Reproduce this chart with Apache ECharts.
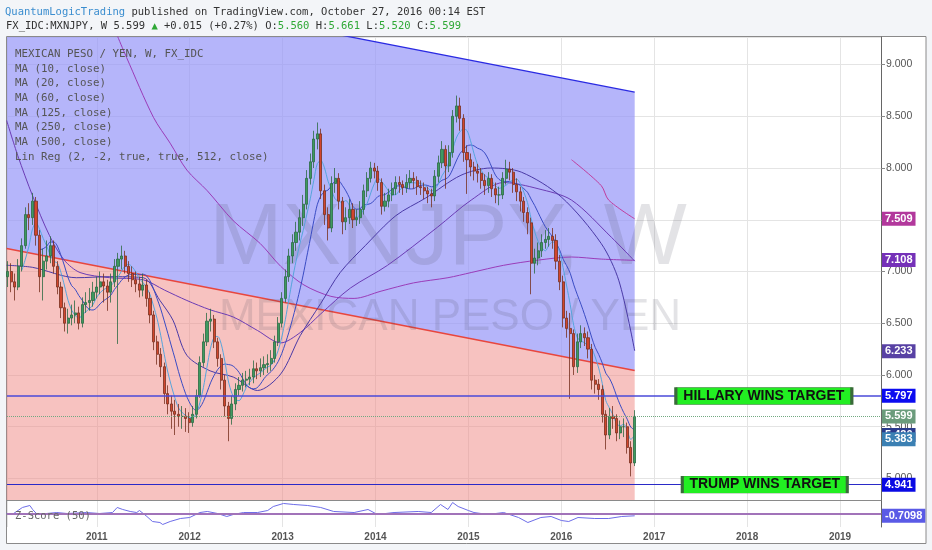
<!DOCTYPE html>
<html lang="en">
<head>
<meta charset="UTF-8" />
<title>MXNJPY weekly</title>
<script src="https://cdn.jsdelivr.net/npm/echarts@6/dist/echarts.min.js"></script>
<style>
  html, body { margin: 0; padding: 0; width: 100%; height: 100%; background: #f3f5f8; }
  #chart { width: 932px; height: 550px; }
</style>
</head>
<body>
<div id="chart"></div>
<script>
// one bar every two weeks, starting mid January 2010
const barStart = 2010.04;
const barStep = 14 / 365.25;

// [open, close, low, high]
const candles = [
  [6.95,7.00,6.85,7.10],[7.00,6.90,6.80,7.08],[6.90,6.85,6.72,6.98],[6.85,7.05,6.82,7.12],[7.05,7.25,7.00,7.32],[7.25,7.55,7.22,7.62],
  [7.55,7.52,7.40,7.66],[7.52,7.68,7.45,7.76],[7.68,7.35,7.25,7.72],[7.35,6.95,6.80,7.40],[6.95,7.10,6.72,7.22],[7.10,7.15,7.02,7.30],
  [7.15,7.25,7.08,7.34],[7.25,7.05,6.98,7.30],[7.05,6.85,6.78,7.10],[6.85,6.65,6.55,6.90],[6.65,6.50,6.42,6.70],[6.50,6.55,6.40,6.64],
  [6.55,6.58,6.48,6.68],[6.58,6.60,6.50,6.72],[6.60,6.50,6.44,6.66],[6.50,6.68,6.46,6.75],[6.68,6.70,6.60,6.80],[6.70,6.72,6.62,6.84],
  [6.72,6.80,6.66,6.90],[6.80,6.85,6.74,6.95],[6.85,6.90,6.78,7.00],[6.90,6.86,6.70,6.98],[6.86,6.80,6.62,6.92],[6.80,6.90,6.70,6.98],
  [6.90,7.05,6.85,7.12],[7.05,7.12,6.30,7.18],[7.12,7.15,7.02,7.25],[7.15,7.05,6.98,7.20],[7.05,6.98,6.90,7.10],[6.98,6.92,6.85,7.05],
  [6.92,6.88,6.80,7.00],[6.88,6.82,6.75,6.95],[6.82,6.87,6.76,6.98],[6.87,6.74,6.66,6.92],[6.74,6.58,6.50,6.80],[6.58,6.32,6.24,6.62],
  [6.32,6.20,6.10,6.38],[6.20,6.08,5.98,6.26],[6.08,5.82,5.72,6.12],[5.82,5.72,5.62,5.90],[5.72,5.65,5.48,5.80],[5.65,5.62,5.42,5.76],
  [5.62,5.60,5.50,5.72],[5.60,5.60,5.48,5.70],[5.60,5.58,5.45,5.68],[5.58,5.54,5.44,5.64],[5.54,5.62,5.50,5.70],[5.62,5.80,5.58,5.86],
  [5.80,6.12,5.78,6.18],[6.12,6.32,6.08,6.40],[6.32,6.52,6.28,6.60],[6.52,6.54,6.42,6.64],[6.54,6.32,6.26,6.58],[6.32,6.16,6.08,6.36],
  [6.16,5.95,5.86,6.20],[5.95,5.70,5.60,6.00],[5.70,5.58,5.36,5.74],[5.58,5.72,5.52,5.80],[5.72,5.86,5.66,5.92],[5.86,5.90,5.80,5.98],
  [5.90,5.95,5.84,6.02],[5.95,5.96,5.88,6.04],[5.96,5.98,5.90,6.06],[5.98,6.06,5.92,6.14],[6.06,6.04,5.96,6.12],[6.04,6.07,5.98,6.16],
  [6.07,6.10,6.00,6.18],[6.10,6.11,6.02,6.20],[6.11,6.16,6.04,6.24],[6.16,6.32,6.12,6.38],[6.32,6.50,6.28,6.56],[6.50,6.74,6.46,6.80],
  [6.74,6.95,6.70,7.02],[6.95,7.15,6.90,7.22],[7.15,7.28,7.08,7.36],[7.28,7.38,7.20,7.48],[7.38,7.52,7.30,7.60],[7.52,7.65,7.44,7.74],
  [7.65,7.90,7.60,7.98],[7.90,8.06,7.84,8.14],[8.06,8.28,8.00,8.36],[8.28,8.33,8.18,8.44],[8.33,7.78,7.70,8.38],[7.78,7.55,7.45,7.84],
  [7.55,7.42,7.30,7.62],[7.42,7.85,7.38,7.92],[7.85,7.90,7.76,8.00],[7.90,7.68,7.60,7.95],[7.68,7.48,7.36,7.72],[7.48,7.52,7.40,7.62],
  [7.52,7.60,7.46,7.70],[7.60,7.50,7.42,7.66],[7.50,7.52,7.44,7.60],[7.52,7.60,7.46,7.68],[7.60,7.78,7.55,7.84],[7.78,7.90,7.72,7.96],
  [7.90,8.00,7.86,8.06],[8.00,7.97,7.90,8.05],[7.97,7.86,7.78,8.02],[7.86,7.63,7.55,7.90],[7.63,7.68,7.58,7.76],[7.68,7.74,7.62,7.80],
  [7.74,7.80,7.68,7.86],[7.80,7.86,7.74,7.92],[7.86,7.84,7.76,7.92],[7.84,7.81,7.74,7.88],[7.81,7.86,7.76,7.94],[7.86,7.90,7.80,7.98],
  [7.90,7.88,7.80,7.96],[7.88,7.82,7.74,7.92],[7.82,7.81,7.74,7.88],[7.81,7.78,7.70,7.86],[7.78,7.75,7.66,7.82],[7.75,7.73,7.62,7.80],
  [7.73,7.92,7.68,7.98],[7.92,8.05,7.86,8.12],[8.05,8.18,8.00,8.26],[8.18,8.02,7.80,8.22],[8.02,8.15,7.96,8.22],[8.15,8.50,8.10,8.56],
  [8.50,8.60,8.44,8.70],[8.60,8.48,8.36,8.68],[8.48,8.15,8.06,8.52],[8.15,8.08,7.75,8.22],[8.08,8.01,7.92,8.14],[8.01,7.97,7.88,8.06],
  [7.97,7.95,7.86,8.04],[7.95,7.88,7.80,8.00],[7.88,7.83,7.74,7.94],[7.83,7.90,7.76,7.96],[7.90,7.80,7.72,7.94],[7.80,7.74,7.66,7.86],
  [7.74,7.74,7.64,7.82],[7.74,7.90,7.70,7.96],[7.90,7.99,7.84,8.08],[7.99,7.96,7.88,8.06],[7.96,7.84,7.76,8.00],[7.84,7.77,7.68,7.90],
  [7.77,7.68,7.58,7.82],[7.68,7.57,7.48,7.72],[7.57,7.47,7.36,7.62],[7.47,7.08,6.78,7.52],[7.08,7.13,6.98,7.22],[7.13,7.20,7.06,7.28],
  [7.20,7.28,7.14,7.36],[7.28,7.31,7.22,7.40],[7.31,7.34,7.24,7.42],[7.34,7.30,7.22,7.42],[7.30,7.10,7.02,7.36],[7.10,6.90,6.82,7.16],
  [6.90,6.55,6.46,6.96],[6.55,6.45,6.36,6.62],[6.45,6.40,5.77,6.60],[6.40,6.08,6.00,6.44],[6.08,6.32,6.02,6.40],[6.32,6.40,6.26,6.48],
  [6.40,6.36,6.28,6.46],[6.36,6.25,6.16,6.42],[6.25,5.95,5.86,6.30],[5.95,5.91,5.82,6.00],[5.91,5.86,5.76,5.96],[5.86,5.62,5.54,5.90],
  [5.62,5.42,5.28,5.66],[5.42,5.60,5.38,5.68],[5.60,5.58,5.48,5.70],[5.58,5.44,5.36,5.62],[5.44,5.50,5.38,5.56],[5.50,5.50,5.40,5.58],
  [5.50,5.30,5.24,5.54],[5.30,5.15,5.02,5.36],[5.15,5.60,5.12,5.66]
];

// longer moving averages
const ma60Years  = [2010.03,2010.31,2010.78,2011.14,2011.50,2011.68,2011.82,2011.97,2012.22,2012.47,2012.73,2012.98,2013.19,2013.41,2013.62,2013.89,2014.22,2014.54,2014.92,2015.24,2015.57,2016.00,2016.43,2016.62,2016.79];
const ma60Values = [7.06,7.04,6.94,6.95,6.94,6.72,6.53,6.19,6.04,5.98,5.85,6.01,6.38,6.69,6.99,7.25,7.54,7.71,7.93,8.00,7.96,7.72,7.27,6.91,6.233];

const ma125Years  = [2010.03,2010.15,2010.31,2010.49,2010.65,2010.82,2011.14,2011.50,2011.73,2011.97,2012.22,2012.47,2012.73,2012.98,2013.19,2013.41,2013.73,2014.13,2014.67,2015.03,2015.38,2015.75,2016.11,2016.54,2016.79];
const ma125Values = [8.46,8.12,7.73,7.35,7.11,6.99,6.94,6.92,6.82,6.72,6.63,6.56,6.43,6.31,6.41,6.59,6.84,7.06,7.43,7.69,7.86,7.80,7.69,7.33,7.10];

const ma250Years  = [2011.16,2011.32,2011.61,2011.79,2011.97,2012.19,2012.47,2012.76,2012.98,2013.23,2013.52,2013.77,2014.06,2014.41,2014.78,2015.03,2015.38,2015.75,2016.11,2016.43,2016.79];
const ma250Values = [9.41,9.07,8.49,8.24,7.98,7.78,7.49,7.27,7.05,6.87,6.76,6.74,6.81,6.89,6.94,6.99,7.06,7.11,7.14,7.12,7.108];

const ma500Years  = [2016.11,2016.43,2016.51,2016.79];
const ma500Values = [8.08,7.83,7.69,7.509];

// linear regression channel: centre line and distance to the upper line
const linRegYears = [2010.03, 2016.79];
const linRegCenter = [7.222, 6.043];
const channelWidth = 2.69;

// z-score (50) pane
const zYears  = [2010.03,2010.09,2010.20,2010.28,2010.31,2010.35,2010.46,2010.57,2010.68,2010.89,2011.03,2011.17,2011.22,2011.28,2011.36,2011.43,2011.46,2011.54,2011.60,2011.68,2011.71,2011.79,2011.90,2012.00,2012.11,2012.19,2012.30,2012.40,2012.47,2012.58,2012.73,2012.84,2012.90,2013.01,2013.12,2013.27,2013.41,2013.55,2013.77,2013.92,2014.02,2014.20,2014.46,2014.60,2014.70,2014.78,2014.83,2014.89,2015.00,2015.06,2015.21,2015.38,2015.54,2015.64,2015.78,2015.89,2016.00,2016.08,2016.18,2016.36,2016.51,2016.65,2016.79];
const zValues = [0,-0.3,1.85,2.46,1.23,0,0,0.3,0,0.3,0,0.3,1.85,1.23,0.62,0.3,0.92,-0.92,-2.46,-2.77,-3.38,-2.46,-1.54,-1.23,0.3,0.62,0,-0.92,-0.3,0.3,0.3,0.92,2.15,3.08,2.77,2.46,1.85,0.62,0.3,1.23,-0.3,0.3,0.62,0.3,2.77,1.23,3.38,2.15,0.92,0.3,-0.3,0.3,-1.23,-2.77,-1.23,-0.92,-2.15,-2.46,-1.23,-1.54,-1.54,-0.92,-0.7098];

const hillaryTarget = 5.797;
const trumpTarget = 4.941;
const lastClose = 5.599;
const maTags = [
  { value: 7.509, color: "#b2389c" },
  { value: 7.108, color: "#7531b8" },
  { value: 6.233, color: "#5841a4" },
  { value: 5.420, color: "#2a3b8c" },
];
const ma10Tag = { value: 5.383, color: "#3b80b3" };

const legendLines = [
  "MEXICAN PESO / YEN, W, FX_IDC",
  "MA (10, close)",
  "MA (20, close)",
  "MA (60, close)",
  "MA (125, close)",
  "MA (250, close)",
  "MA (500, close)",
  "Lin Reg (2, -2, true, true, 512, close)",
];

const MONO = '"DejaVu Sans Mono", monospace';
const SANS = '"Liberation Sans", Arial, sans-serif';

const barYear = (i) => barStart + i * barStep;
const closes = candles.map((c) => c[1]);
const linRegUpper = linRegCenter.map((v) => v + channelWidth);

function movingAverage(period) {
  const out = [];
  for (let i = period - 1; i < closes.length; i++) {
    let sum = 0;
    for (let j = i - period + 1; j <= i; j++) sum += closes[j];
    out.push([barYear(i), sum / period]);
  }
  return out;
}

const pairs = (xs, ys) => xs.map((x, i) => [x, ys[i]]);

const hiddenLine = { width: 0, color: "rgba(0,0,0,0)" };

function tagLabel(text, color) {
  return {
    show: true,
    position: "end",
    distance: 1,
    formatter: text,
    backgroundColor: color,
    color: "#fff",
    opacity: 1,
    fontFamily: SANS,
    fontWeight: "bold",
    fontSize: 11,
    lineHeight: 12,
    padding: [1, 3, 1, 3],
  };
}

function maLine(data, color) {
  return {
    type: "line",
    data: data,
    symbol: "none",
    smooth: 0.3,
    silent: true,
    z: 3,
    lineStyle: { color: color, width: 1 },
  };
}

const chart = echarts.init(document.getElementById("chart"));

const xMin = 2010.034;
const xMax = 2019.441;

const option = {
  animation: false,
  backgroundColor: "#f3f5f8",
  grid: [
    { left: 7, right: 51, top: 37, height: 463, outerBoundsMode: "none" },
    { left: 7, right: 51, top: 500, height: 27, outerBoundsMode: "none" },
  ],
  xAxis: [
    {
      gridIndex: 0, type: "value", min: xMin, max: xMax, splitNumber: 9,
      axisLine: { show: true, lineStyle: { color: "#8a8a8a" } },
      axisTick: { show: false },
      axisLabel: { show: false },
      splitLine: { show: true, lineStyle: { color: "#e4e4e4" } },
    },
    {
      gridIndex: 1, type: "value", min: xMin, max: xMax, splitNumber: 9,
      axisLine: { show: true, lineStyle: { color: "#8a8a8a" } },
      axisTick: { show: false },
      axisLabel: {
        show: true, showMinLabel: false, showMaxLabel: false,
        color: "#555", fontFamily: SANS, fontSize: 10, fontWeight: "bold", margin: 5,
        formatter: (v) => String(Math.round(v)),
      },
      splitLine: { show: true, lineStyle: { color: "#e4e4e4" } },
    },
  ],
  yAxis: [
    {
      gridIndex: 0, type: "value", position: "right", min: 4.792, max: 9.266, splitNumber: 9,
      axisLine: { show: true, lineStyle: { color: "#666" } },
      axisTick: { show: true, length: 4, lineStyle: { color: "#888" } },
      axisLabel: {
        color: "#555", fontFamily: SANS, fontSize: 10.5, margin: 5,
        showMinLabel: false, showMaxLabel: false,
        formatter: (v) => v.toFixed(3),
      },
      splitLine: { show: true, lineStyle: { color: "#e4e4e4" } },
    },
    {
      gridIndex: 1, type: "value", position: "right", min: -4.15, max: 4.15,
      axisLine: { show: true, lineStyle: { color: "#666" } },
      axisTick: { show: false },
      axisLabel: { show: false },
      splitLine: { show: false },
    },
  ],
  series: [
    // lower half of the channel, filled down to the pane bottom
    {
      type: "line", silent: true, symbol: "none", z: 1,
      data: pairs(linRegYears, linRegCenter),
      lineStyle: { color: "#e8463e", width: 1.5 },
      areaStyle: { color: "rgba(240,135,130,0.72)", origin: "start" },
    },
    // upper half of the channel, between centre and upper line
    {
      type: "custom", silent: true, clip: true, z: 1,
      data: [[linRegYears[0], linRegCenter[0], linRegUpper[0], linRegYears[1], linRegCenter[1], linRegUpper[1]]],
      encode: { x: [0, 3], y: [1, 2, 4, 5] },
      renderItem: (params, api) => {
        const pts = [
          api.coord([api.value(0), api.value(2)]),
          api.coord([api.value(3), api.value(5)]),
          api.coord([api.value(3), api.value(4)]),
          api.coord([api.value(0), api.value(1)]),
        ];
        return { type: "polygon", shape: { points: pts }, style: { fill: "rgba(150,150,248,0.7)" } };
      },
    },
    {
      type: "line", silent: true, symbol: "none", z: 1.5,
      data: pairs(linRegYears, linRegUpper),
      lineStyle: { color: "#2a2ae2", width: 1.3 },
    },
    maLine(pairs(ma500Years, ma500Values), "#c03d9e"),
    maLine(pairs(ma250Years, ma250Values), "#9a3cb8"),
    maLine(pairs(ma125Years, ma125Values), "#6b3cb4"),
    maLine(pairs(ma60Years, ma60Values), "#4a3aa6"),
    maLine(movingAverage(10), "#3a4cc4"),
    maLine(movingAverage(5), "#56a5dc"),
    {
      type: "candlestick",
      silent: true,
      z: 4,
      barWidth: 2.6,
      data: candles.map((c, i) => [barYear(i), c[0], c[1], c[2], c[3]]),
      itemStyle: {
        color: "#3e9a60", color0: "#d2452c",
        borderColor: "#2b6a43", borderColor0: "#76301f", borderWidth: 0.8,
      },
      markLine: {
        silent: true, symbol: ["none", "none"], animation: false,
        data: [
          ...maTags.map((m) => ({
            yAxis: m.value, lineStyle: hiddenLine, label: tagLabel(m.value.toFixed(3), m.color),
          })),
          { yAxis: lastClose, lineStyle: { color: "#72a982", type: "dotted", width: 1 }, label: tagLabel(lastClose.toFixed(3), "#6b9c7c") },
          { yAxis: ma10Tag.value, lineStyle: hiddenLine, label: tagLabel(ma10Tag.value.toFixed(3), ma10Tag.color) },
          { yAxis: hillaryTarget, lineStyle: { color: "#4a4ad8", type: "solid", width: 1.5 }, label: tagLabel(hillaryTarget.toFixed(3), "#0c0cf0") },
          { yAxis: trumpTarget, lineStyle: { color: "#2a2ac8", type: "solid", width: 1.2 }, label: tagLabel(trumpTarget.toFixed(3), "#0a0ae4") },
        ],
      },
      markPoint: {
        silent: true, animation: false,
        data: [
          {
            coord: [2018.18, hillaryTarget], symbol: "rect", symbolSize: [176, 17],
            itemStyle: { color: "#22ee22", borderColor: "#3a6a3a", borderWidth: 1 },
            label: { show: true, position: "inside", formatter: "HILLARY WINS TARGET", color: "#111", fontFamily: SANS, fontWeight: "bold", fontSize: 14 },
          },
          {
            coord: [2018.19, trumpTarget], symbol: "rect", symbolSize: [165, 17],
            itemStyle: { color: "#22ee22", borderColor: "#3a6a3a", borderWidth: 1 },
            label: { show: true, position: "inside", formatter: "TRUMP WINS TARGET", color: "#111", fontFamily: SANS, fontWeight: "bold", fontSize: 14 },
          },
        ],
      },
    },
    // z-score pane
    {
      type: "line", xAxisIndex: 1, yAxisIndex: 1, silent: true, symbol: "none",
      data: pairs(zYears, zValues),
      lineStyle: { color: "#6d6de8", width: 1 },
      markLine: {
        silent: true, symbol: ["none", "none"], animation: false,
        data: [
          { yAxis: 0, lineStyle: { color: "#a173b9", type: "solid", width: 2 }, label: { show: false } },
          { yAxis: -0.7098, lineStyle: hiddenLine, label: tagLabel("-0.7098", "#5a5ae6") },
        ],
      },
    },
  ],
  graphic: [
    {
      type: "rect", z: -10, silent: true,
      shape: { x: 6.5, y: 36.5, width: 919.5, height: 507 },
      style: { fill: "#ffffff", stroke: "#8a8a8a", lineWidth: 1 },
    },
    {
      type: "text", x: 5, y: 12, z: 10, silent: true,
      style: {
        text: "{a|QuantumLogicTrading}{b| published on TradingView.com, October 27, 2016 00:14 EST}",
        font: "10.5px " + MONO, verticalAlign: "middle",
        rich: {
          a: { fill: "#3a8dcf", fontFamily: MONO, fontSize: 10.5 },
          b: { fill: "#333", fontFamily: MONO, fontSize: 10.5 },
        },
      },
    },
    {
      type: "text", x: 6, y: 26, z: 10, silent: true,
      style: {
        text: "{d|FX_IDC:MXNJPY, W 5.599 }{g|▲}{d| +0.015 (+0.27%) O:}{g|5.560}{d| H:}{g|5.661}{d| L:}{g|5.520}{d| C:}{g|5.599}",
        font: "10.5px " + MONO, verticalAlign: "middle",
        rich: {
          d: { fill: "#333", fontFamily: MONO, fontSize: 10.5 },
          g: { fill: "#2fa836", fontFamily: MONO, fontSize: 10.5 },
        },
      },
    },
    {
      type: "text", x: 448, y: 240, z: 2, silent: true,
      style: {
        text: "MXNJPY, W", font: "88px " + SANS, fill: "rgba(70,70,90,0.15)",
        align: "center", verticalAlign: "middle",
      },
    },
    {
      type: "text", x: 450, y: 318, z: 2, silent: true,
      style: {
        text: "MEXICAN PESO / YEN", font: "44px " + SANS, fill: "rgba(70,70,90,0.15)",
        align: "center", verticalAlign: "middle",
      },
    },
    ...legendLines.map((line, i) => ({
      type: "text", x: 15, y: 54 + i * 14.7, z: 10, silent: true,
      style: { text: line, font: "10.8px " + MONO, fill: "#555", verticalAlign: "middle" },
    })),
    {
      type: "text", x: 15, y: 516, z: 10, silent: true,
      style: { text: "Z-Score (50)", font: "10.5px " + MONO, fill: "#666", verticalAlign: "middle" },
    },
  ],
};

chart.setOption(option);
</script>
</body>
</html>
